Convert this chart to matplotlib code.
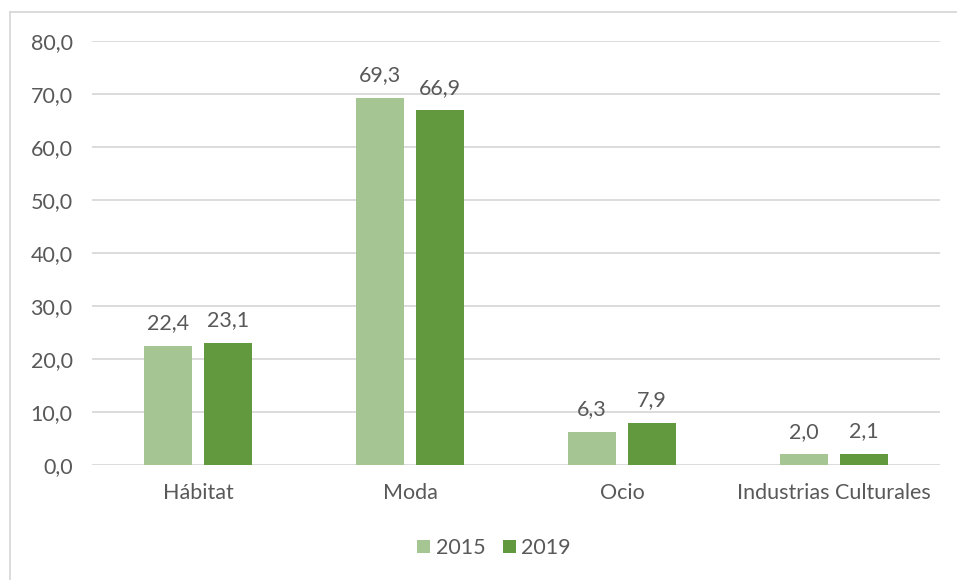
import numpy as np
import matplotlib.pyplot as plt
from matplotlib.lines import Line2D

# data
categories = ['Hábitat', 'Moda', 'Ocio', 'Industrias Culturales']
years = ['2015', '2019']
values_2015 = [22.4, 69.3, 6.3, 2.0]
values_2019 = [23.1, 66.9, 7.9, 2.1]
colors = ['#A5C693', '#62993E']

plt.rcParams['font.family'] = ['Lato', 'DejaVu Sans']
text_color = '#595959'
fs = 15.5

fig = plt.figure(figsize=(9.57, 5.80), dpi=100)
ax = fig.add_axes([92 / 957, 1 - 465 / 580, 848 / 957, 424 / 580])

x = np.arange(len(categories))
width = 0.226
offset = 0.142

for vals, year, col, sign in [(values_2015, years[0], colors[0], -1),
                              (values_2019, years[1], colors[1], 1)]:
    bars = ax.bar(x + sign * offset, vals, width, color=col, label=year, zorder=3)
    for b, v in zip(bars, vals):
        ax.text(b.get_x() + b.get_width() / 2, v + 2.4, f'{v:.1f}'.replace('.', ','),
                ha='center', va='bottom', fontsize=fs, color=text_color)

ax.set_xlim(-0.5, len(categories) - 0.5)
ax.set_ylim(0, 80)
ax.set_yticks(np.arange(0, 81, 10))
ax.set_yticklabels([f'{t:.1f}'.replace('.', ',') for t in np.arange(0, 81, 10)])
ax.set_xticks(x)
ax.set_xticklabels(categories)
ax.tick_params(axis='both', length=0, labelsize=fs, labelcolor=text_color)
ax.tick_params(axis='x', pad=13)
ax.tick_params(axis='y', pad=14)
ax.grid(axis='y', color='#D9D9D9', linewidth=1.3, zorder=0)
for s in ax.spines.values():
    s.set_visible(False)

ax.legend(loc='center', bbox_to_anchor=((494 - 92) / 848, (465 - 548) / 424), ncol=2,
          frameon=False, fontsize=fs, labelcolor=text_color, handlelength=0.6,
          handleheight=0.6, handletextpad=0.25, columnspacing=0.8)

# chart area border
fig.add_artist(Line2D([10 / 957, 10 / 957], [0, 1 - 12 / 580], color='#D9D9D9', linewidth=1.3))
fig.add_artist(Line2D([10 / 957, 1], [1 - 12 / 580, 1 - 12 / 580], color='#D9D9D9', linewidth=1.3))

fig.savefig('out.png', dpi=100)
